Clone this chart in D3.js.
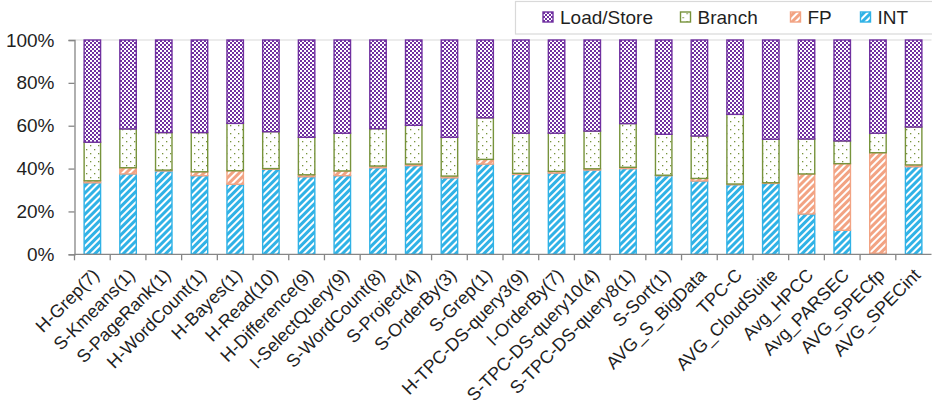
<!DOCTYPE html>
<html>
<head>
<meta charset="utf-8">
<script src="https://cdn.jsdelivr.net/npm/d3@7"></script>
<style>
  body { margin: 0; background: #fff; }
  svg { display: block; font-family: "Liberation Sans", Arial, sans-serif; }
</style>
</head>
<body>
<script>
// categories and instruction-mix percentages (INT, FP, Branch, Load/Store)
var categories = ["H-Grep(7)", "S-Kmeans(1)", "S-PageRank(1)", "H-WordCount(1)", "H-Bayes(1)",
  "H-Read(10)", "H-Difference(9)", "I-SelectQuery(9)", "S-WordCount(8)", "S-Project(4)",
  "S-OrderBy(3)", "S-Grep(1)", "H-TPC-DS-query3(9)", "I-OrderBy(7)", "S-TPC-DS-query10(4)",
  "S-TPC-DS-query8(1)", "S-Sort(1)", "AVG_S_BigData", "TPC-C", "AVG_CloudSuite",
  "Avg_HPCC", "Avg_PARSEC", "AVG_SPECfp", "AVG_SPECint"];

var intVals = [33.4, 37.5, 38.9, 36.7, 32.7, 39.7, 36.2, 36.7, 40.4, 41.4,
  35.7, 42.1, 37.3, 37.9, 39.3, 40.0, 36.7, 34.2, 32.5, 33.1,
  18.8, 11.2, 0.5, 40.9];
var fpVals = [0.9, 2.9, 0.4, 1.8, 6.3, 0.3, 0.9, 2.2, 0.8, 0.7,
  0.8, 2.2, 0.5, 0.8, 0.6, 0.6, 0.2, 1.2, 0.3, 0.3,
  18.7, 31.1, 46.9, 0.8];
var branchVals = [18.0, 18.1, 17.5, 18.3, 22.1, 17.2, 17.5, 17.6, 17.4, 18.1,
  18.1, 19.4, 18.7, 17.8, 17.6, 20.4, 19.1, 19.8, 32.5, 20.3,
  16.3, 10.6, 9.1, 17.7];
var loadStoreVals = [47.7, 41.5, 43.2, 43.2, 38.9, 42.8, 45.4, 43.5, 41.4, 39.8,
  45.4, 36.3, 43.5, 43.5, 42.5, 39.0, 44.0, 44.8, 34.7, 46.3,
  46.2, 47.1, 43.5, 40.6];

var yTicks = [0, 20, 40, 60, 80, 100];

var keys = ["INT", "FP", "Branch", "Load/Store"];
var legendOrder = ["Load/Store", "Branch", "FP", "INT"];

var colors = {
  "INT": "#30b2e6",
  "FP": "#f2a383",
  "Branch": "#77933c",
  "Load/Store": "#7030a0"
};
var patternId = {
  "INT": "pInt",
  "FP": "pFp",
  "Branch": "pBranch",
  "Load/Store": "pLs"
};

(function() {

var rows = categories.map(function(c, i) {
  return { cat: c, "INT": intVals[i], "FP": fpVals[i], "Branch": branchVals[i], "Load/Store": loadStoreVals[i] };
});

var W = 932, H = 400;
var plotLeft = 74.5, plotRight = 931.5, plotTop = 40, plotBottom = 254.3;

var svg = d3.select("body").append("svg")
  .attr("width", W)
  .attr("height", H);

var defs = svg.append("defs");

// diagonal stripes for INT and FP
["INT", "FP"].forEach(function(k) {
  var p = defs.append("pattern")
    .attr("id", patternId[k])
    .attr("patternUnits", "userSpaceOnUse")
    .attr("width", 5).attr("height", 5)
    .attr("patternTransform", "rotate(45)");
  p.append("rect").attr("width", 5).attr("height", 5).attr("fill", "#fff");
  p.append("rect").attr("width", 3).attr("height", 5).attr("fill", colors[k]);
});

// sparse dots for Branch
var pb = defs.append("pattern")
  .attr("id", patternId["Branch"])
  .attr("patternUnits", "userSpaceOnUse")
  .attr("width", 8).attr("height", 8);
pb.append("rect").attr("width", 8).attr("height", 8).attr("fill", "#fff");
pb.append("rect").attr("x", 2).attr("y", 1).attr("width", 1.3).attr("height", 1.3).attr("fill", colors["Branch"]);
pb.append("rect").attr("x", 6).attr("y", 5).attr("width", 1.3).attr("height", 1.3).attr("fill", colors["Branch"]);

// checkerboard for Load/Store
var pl = defs.append("pattern")
  .attr("id", patternId["Load/Store"])
  .attr("patternUnits", "userSpaceOnUse")
  .attr("width", 4).attr("height", 4);
pl.append("rect").attr("width", 4).attr("height", 4).attr("fill", "#fff");
pl.append("rect").attr("width", 2).attr("height", 2).attr("fill", colors["Load/Store"]);
pl.append("rect").attr("x", 2).attr("y", 2).attr("width", 2).attr("height", 2).attr("fill", colors["Load/Store"]);

var x = d3.scaleBand()
  .domain(categories)
  .range([plotLeft, plotRight])
  .paddingInner(0.5)
  .paddingOuter(0.25);

var y = d3.scaleLinear()
  .domain([0, 100])
  .range([plotBottom, plotTop]);

// top gridline
svg.append("line")
  .attr("x1", plotLeft).attr("x2", plotRight)
  .attr("y1", y(100)).attr("y2", y(100))
  .attr("stroke", "#d9d9d9").attr("stroke-width", 1);

var series = d3.stack().keys(keys)(rows);

svg.selectAll(".series")
  .data(series)
  .enter().append("g")
  .attr("class", "series")
  .each(function(s) {
    d3.select(this).selectAll("rect")
      .data(s)
      .enter().append("rect")
      .attr("x", function(d) { return x(d.data.cat) + 0.7; })
      .attr("width", x.bandwidth() - 1.4)
      .attr("y", function(d) { return y(d[1]); })
      .attr("height", function(d) { return Math.max(0, y(d[0]) - y(d[1])); })
      .attr("fill", "url(#" + patternId[s.key] + ")")
      .attr("stroke", colors[s.key])
      .attr("stroke-width", 1.4);
  });

// y axis
var yAxis = svg.append("g")
  .attr("transform", "translate(" + plotLeft + ",0)")
  .call(d3.axisLeft(y).tickValues(yTicks).tickSize(6).tickPadding(14)
    .tickFormat(function(d) { return d + "%"; }));
yAxis.select(".domain").attr("stroke", "#868686").attr("stroke-width", 1.3);
yAxis.selectAll(".tick line").attr("stroke", "#868686").attr("stroke-width", 1.3);
yAxis.selectAll("text").attr("font-size", 19).attr("fill", "#1f1f1f")
  .attr("font-family", "Liberation Sans, Arial, sans-serif");

// x axis with ticks at category boundaries
var xAxisG = svg.append("g").attr("class", "x-axis");
xAxisG.append("line")
  .attr("x1", plotLeft).attr("x2", plotRight)
  .attr("y1", plotBottom).attr("y2", plotBottom)
  .attr("stroke", "#868686").attr("stroke-width", 1.3);
xAxisG.selectAll(".sep")
  .data(categories)
  .enter().append("line")
  .attr("class", "sep")
  .attr("x1", function(d) { return x(d) - x.step() * 0.25; })
  .attr("x2", function(d) { return x(d) - x.step() * 0.25; })
  .attr("y1", plotBottom).attr("y2", plotBottom + 6)
  .attr("stroke", "#868686").attr("stroke-width", 1.3);

xAxisG.selectAll(".lbl")
  .data(categories)
  .enter().append("text")
  .attr("class", "lbl")
  .attr("transform", function(d) {
    var cx = x(d) + x.bandwidth() / 2 + 8;
    return "translate(" + cx + "," + (plotBottom + 22) + ") rotate(-45)";
  })
  .attr("text-anchor", "end")
  .attr("font-size", 18)
  .attr("fill", "#1f1f1f")
  .text(function(d) { return d; });

// legend
var legend = svg.append("g");
legend.append("rect")
  .attr("x", 515.5).attr("y", 1.5)
  .attr("width", 430).attr("height", 32.5)
  .attr("fill", "#fff")
  .attr("stroke", "#d9d9d9").attr("stroke-width", 1.2);

var legendX = [543, 680.5, 790.5, 860.5];
var li = legend.selectAll(".li")
  .data(legendOrder)
  .enter().append("g")
  .attr("class", "li")
  .attr("transform", function(d, i) { return "translate(" + legendX[i] + ",0)"; });
li.append("rect")
  .attr("x", 0).attr("y", 12)
  .attr("width", 10).attr("height", 10)
  .attr("fill", function(d) { return "url(#" + patternId[d] + ")"; })
  .attr("stroke", function(d) { return colors[d]; })
  .attr("stroke-width", 1.4);
li.append("text")
  .attr("x", 17).attr("y", 24)
  .attr("font-size", 19)
  .attr("fill", "#1f1f1f")
  .text(function(d) { return d; });

})();
</script>
</body>
</html>
